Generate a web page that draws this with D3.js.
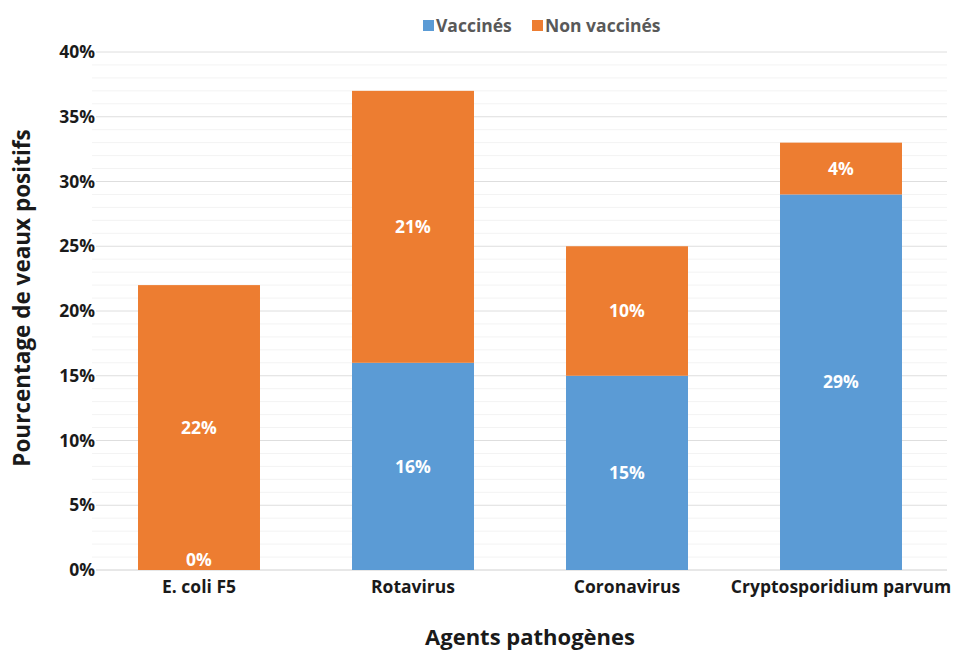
<!DOCTYPE html>
<meta charset="utf-8">
<script src="https://d3js.org/d3.v7.min.js"></script>
<style>
  body { margin: 0; background: #fff; }
  text { font-family: "Open Sans", sans-serif; font-weight: bold; }
</style>
<div id="chart"></div>
<script>

// data
var categories = ["E. coli F5", "Rotavirus", "Coronavirus", "Cryptosporidium parvum"];
var vaccines = [0, 16, 15, 29];
var nonVaccines = [22, 21, 10, 4];
var yTicks = [0, 5, 10, 15, 20, 25, 30, 35, 40];
var seriesNames = ["Vaccinés", "Non vaccinés"];
var colors = ["#5b9bd5", "#ed7d31"];

var W = 966, H = 650;
var margin = {top: 52, right: 19, bottom: 80, left: 96},
    width = W - margin.left - margin.right,
    height = H - margin.top - margin.bottom;

var svg = d3.select("#chart").append("svg")
    .attr("width", W)
    .attr("height", H);

var g = svg.append("g")
    .attr("transform", "translate(" + margin.left + "," + margin.top + ")");

var x = d3.scaleBand()
  .domain(categories)
  .range([-4, width + 1])
  .paddingInner(0.43)
  .paddingOuter(0.215);

var y = d3.scaleLinear()
  .domain([0, 40])
  .range([height, 0]);

// minor gridlines (1%)
g.selectAll(".minor")
  .data(d3.range(1, 40).filter(function(d) { return d % 5 != 0; }))
  .enter().append("line")
    .attr("x1", -4).attr("x2", width)
    .attr("y1", function(d) { return y(d); })
    .attr("y2", function(d) { return y(d); })
    .attr("stroke", "#f3f3f3")
    .attr("stroke-width", 1);

// major gridlines
g.selectAll(".major")
  .data(yTicks)
  .enter().append("line")
    .attr("x1", 0).attr("x2", width)
    .attr("y1", function(d) { return y(d); })
    .attr("y2", function(d) { return y(d); })
    .attr("stroke", function(d) { return d == 0 ? "#d0d0d0" : "#dedede"; })
    .attr("stroke-width", 1);

// y axis labels
var yAxis = g.append("g")
  .call(d3.axisLeft(y).tickValues(yTicks).tickSize(0).tickPadding(1)
    .tickFormat(function(d) { return d + "%"; }));
yAxis.select(".domain").remove();
yAxis.selectAll("text")
  .attr("font-size", 17.5)
  .attr("fill", "#1a1a1a")
  .style("font-family", "'Open Sans', sans-serif")
  .style("font-weight", "bold");

// x axis labels
var xAxis = g.append("g")
  .attr("transform", "translate(0," + height + ")")
  .call(d3.axisBottom(x).tickSize(0).tickPadding(11));
xAxis.select(".domain").remove();
xAxis.selectAll("text")
  .attr("font-size", 17.5)
  .attr("fill", "#1a1a1a")
  .style("font-family", "'Open Sans', sans-serif")
  .style("font-weight", "bold");

// stacked bars
var rows = categories.map(function(c, i) {
  return {cat: c, v: vaccines[i], n: nonVaccines[i]};
});
var stack = d3.stack().keys(["v", "n"])(rows);

stack.forEach(function(layer, k) {
  g.selectAll(".bar" + k)
    .data(layer)
    .enter().append("rect")
      .attr("x", function(d) { return x(d.data.cat); })
      .attr("y", function(d) { return y(d[1]); })
      .attr("width", x.bandwidth())
      .attr("height", function(d) { return y(d[0]) - y(d[1]); })
      .attr("fill", colors[k]);
});

// value labels
stack.forEach(function(layer, k) {
  g.selectAll(".lab" + k)
    .data(layer)
    .enter().append("text")
      .attr("x", function(d) { return x(d.data.cat) + x.bandwidth() / 2; })
      .attr("y", function(d) {
        var mid = (y(d[0]) + y(d[1])) / 2;
        return Math.min(mid, y(0) - 10);
      })
      .attr("dy", "0.35em")
      .attr("text-anchor", "middle")
      .attr("font-size", 17.5)
      .attr("fill", "#fff")
      .text(function(d) { return (d[1] - d[0]) + "%"; });
});

// axis titles
svg.append("text")
  .attr("transform", "translate(30," + 298 + ") rotate(-90)")
  .attr("text-anchor", "middle")
  .attr("font-size", 22.5)
  .attr("fill", "#1a1a1a")
  .text("Pourcentage de veaux positifs");

svg.append("text")
  .attr("x", 530)
  .attr("y", 645)
  .attr("text-anchor", "middle")
  .attr("font-size", 22)
  .attr("fill", "#1a1a1a")
  .text("Agents pathogènes");

// legend
var legend = svg.append("g").attr("transform", "translate(423,26)");
var lx = [0, 109];
seriesNames.forEach(function(name, i) {
  legend.append("rect")
    .attr("x", lx[i]).attr("y", -6)
    .attr("width", 11).attr("height", 11)
    .attr("fill", colors[i]);
  legend.append("text")
    .attr("x", lx[i] + 13).attr("y", 0)
    .attr("dy", "0.35em")
    .attr("font-size", 17.5)
    .attr("fill", "#595959")
    .text(name);
});

</script>
